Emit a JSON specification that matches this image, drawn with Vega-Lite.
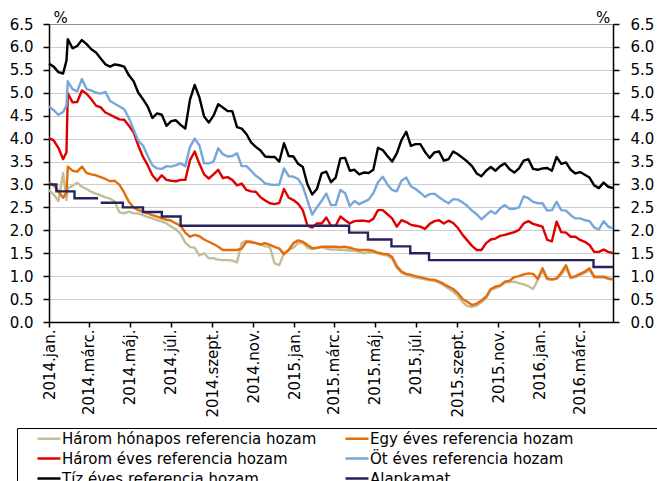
{
"$schema":"https://vega.github.io/schema/vega-lite/v6.json",
"width":564,"height":298,
"autosize":{"type":"none"},
"padding":{"left":49,"top":24,"right":44,"bottom":159},
"background":"#ffffff",
"datasets":{
"h3":[{"d":"2014-01-01","v":2.88},{"d":"2014-01-08","v":2.78},{"d":"2014-01-15","v":2.64},{"d":"2014-01-22","v":3.25},{"d":"2014-01-27","v":2.66},{"d":"2014-01-29","v":2.92},{"d":"2014-02-05","v":2.97},{"d":"2014-02-12","v":3.04},{"d":"2014-02-19","v":2.95},{"d":"2014-02-26","v":2.90},{"d":"2014-03-05","v":2.84},{"d":"2014-03-12","v":2.80},{"d":"2014-03-19","v":2.76},{"d":"2014-03-26","v":2.72},{"d":"2014-04-02","v":2.69},{"d":"2014-04-09","v":2.63},{"d":"2014-04-16","v":2.39},{"d":"2014-04-23","v":2.37},{"d":"2014-04-30","v":2.41},{"d":"2014-05-07","v":2.37},{"d":"2014-05-14","v":2.37},{"d":"2014-05-21","v":2.33},{"d":"2014-05-28","v":2.29},{"d":"2014-06-04","v":2.26},{"d":"2014-06-11","v":2.22},{"d":"2014-06-18","v":2.19},{"d":"2014-06-25","v":2.15},{"d":"2014-07-02","v":2.08},{"d":"2014-07-09","v":2.02},{"d":"2014-07-16","v":1.92},{"d":"2014-07-23","v":1.73},{"d":"2014-07-30","v":1.64},{"d":"2014-08-06","v":1.62},{"d":"2014-08-13","v":1.45},{"d":"2014-08-20","v":1.50},{"d":"2014-08-27","v":1.39},{"d":"2014-09-03","v":1.39},{"d":"2014-09-10","v":1.36},{"d":"2014-09-17","v":1.35},{"d":"2014-09-24","v":1.35},{"d":"2014-10-01","v":1.34},{"d":"2014-10-08","v":1.30},{"d":"2014-10-15","v":1.72},{"d":"2014-10-22","v":1.77},{"d":"2014-10-29","v":1.76},{"d":"2014-11-05","v":1.72},{"d":"2014-11-12","v":1.70},{"d":"2014-11-19","v":1.65},{"d":"2014-11-26","v":1.64},{"d":"2014-12-03","v":1.28},{"d":"2014-12-10","v":1.24},{"d":"2014-12-17","v":1.50},{"d":"2014-12-24","v":1.57},{"d":"2014-12-31","v":1.62},{"d":"2015-01-07","v":1.72},{"d":"2015-01-14","v":1.73},{"d":"2015-01-21","v":1.62},{"d":"2015-01-28","v":1.59},{"d":"2015-02-04","v":1.61},{"d":"2015-02-11","v":1.64},{"d":"2015-02-18","v":1.60},{"d":"2015-02-25","v":1.58},{"d":"2015-03-04","v":1.58},{"d":"2015-03-11","v":1.57},{"d":"2015-03-18","v":1.57},{"d":"2015-03-25","v":1.56},{"d":"2015-04-01","v":1.55},{"d":"2015-04-08","v":1.53},{"d":"2015-04-15","v":1.50},{"d":"2015-04-22","v":1.52},{"d":"2015-04-29","v":1.52},{"d":"2015-05-06","v":1.50},{"d":"2015-05-13","v":1.47},{"d":"2015-05-20","v":1.45},{"d":"2015-05-27","v":1.38},{"d":"2015-06-03","v":1.18},{"d":"2015-06-10","v":1.08},{"d":"2015-06-17","v":1.03},{"d":"2015-06-24","v":1.00},{"d":"2015-07-01","v":0.97},{"d":"2015-07-08","v":0.95},{"d":"2015-07-15","v":0.93},{"d":"2015-07-22","v":0.91},{"d":"2015-07-29","v":0.90},{"d":"2015-08-05","v":0.86},{"d":"2015-08-12","v":0.80},{"d":"2015-08-19","v":0.73},{"d":"2015-08-26","v":0.66},{"d":"2015-09-02","v":0.57},{"d":"2015-09-09","v":0.43},{"d":"2015-09-16","v":0.35},{"d":"2015-09-23","v":0.33},{"d":"2015-09-30","v":0.36},{"d":"2015-10-07","v":0.43},{"d":"2015-10-14","v":0.52},{"d":"2015-10-21","v":0.70},{"d":"2015-10-28","v":0.74},{"d":"2015-11-04","v":0.78},{"d":"2015-11-11","v":0.86},{"d":"2015-11-18","v":0.87},{"d":"2015-11-25","v":0.88},{"d":"2015-12-02","v":0.85},{"d":"2015-12-09","v":0.82},{"d":"2015-12-16","v":0.78},{"d":"2015-12-23","v":0.72},{"d":"2015-12-30","v":0.92},{"d":"2016-01-06","v":1.12},{"d":"2016-01-13","v":0.93},{"d":"2016-01-20","v":0.92},{"d":"2016-01-27","v":0.94},{"d":"2016-02-03","v":1.03},{"d":"2016-02-10","v":1.18},{"d":"2016-02-17","v":0.96},{"d":"2016-02-24","v":0.98},{"d":"2016-03-02","v":1.02},{"d":"2016-03-09","v":1.07},{"d":"2016-03-16","v":1.13},{"d":"2016-03-23","v":0.97},{"d":"2016-03-30","v":0.97},{"d":"2016-04-06","v":0.97},{"d":"2016-04-13","v":0.94},{"d":"2016-04-20","v":0.92}],
"e1":[{"d":"2014-01-01","v":3.05},{"d":"2014-01-08","v":2.98},{"d":"2014-01-15","v":2.85},{"d":"2014-01-22","v":2.71},{"d":"2014-01-27","v":2.82},{"d":"2014-01-29","v":3.39},{"d":"2014-02-05","v":3.30},{"d":"2014-02-12","v":3.28},{"d":"2014-02-19","v":3.39},{"d":"2014-02-26","v":3.25},{"d":"2014-03-05","v":3.22},{"d":"2014-03-12","v":3.20},{"d":"2014-03-19","v":3.16},{"d":"2014-03-26","v":3.12},{"d":"2014-04-02","v":3.07},{"d":"2014-04-09","v":3.08},{"d":"2014-04-16","v":2.99},{"d":"2014-04-23","v":2.82},{"d":"2014-04-30","v":2.62},{"d":"2014-05-07","v":2.50},{"d":"2014-05-14","v":2.44},{"d":"2014-05-21","v":2.41},{"d":"2014-05-28","v":2.37},{"d":"2014-06-04","v":2.33},{"d":"2014-06-11","v":2.30},{"d":"2014-06-18","v":2.26},{"d":"2014-06-25","v":2.23},{"d":"2014-07-02","v":2.21},{"d":"2014-07-09","v":2.15},{"d":"2014-07-16","v":2.10},{"d":"2014-07-23","v":1.95},{"d":"2014-07-30","v":1.86},{"d":"2014-08-06","v":1.90},{"d":"2014-08-13","v":1.87},{"d":"2014-08-20","v":1.80},{"d":"2014-08-27","v":1.75},{"d":"2014-09-03","v":1.70},{"d":"2014-09-10","v":1.64},{"d":"2014-09-17","v":1.57},{"d":"2014-09-24","v":1.57},{"d":"2014-10-01","v":1.57},{"d":"2014-10-08","v":1.57},{"d":"2014-10-15","v":1.60},{"d":"2014-10-22","v":1.75},{"d":"2014-10-29","v":1.74},{"d":"2014-11-05","v":1.72},{"d":"2014-11-12","v":1.69},{"d":"2014-11-19","v":1.72},{"d":"2014-11-26","v":1.68},{"d":"2014-12-03","v":1.64},{"d":"2014-12-10","v":1.60},{"d":"2014-12-17","v":1.48},{"d":"2014-12-24","v":1.57},{"d":"2014-12-31","v":1.72},{"d":"2015-01-07","v":1.78},{"d":"2015-01-14","v":1.75},{"d":"2015-01-21","v":1.68},{"d":"2015-01-28","v":1.61},{"d":"2015-02-04","v":1.62},{"d":"2015-02-11","v":1.64},{"d":"2015-02-18","v":1.64},{"d":"2015-02-25","v":1.64},{"d":"2015-03-04","v":1.64},{"d":"2015-03-11","v":1.63},{"d":"2015-03-18","v":1.64},{"d":"2015-03-25","v":1.62},{"d":"2015-04-01","v":1.59},{"d":"2015-04-08","v":1.57},{"d":"2015-04-15","v":1.57},{"d":"2015-04-22","v":1.57},{"d":"2015-04-29","v":1.55},{"d":"2015-05-06","v":1.51},{"d":"2015-05-13","v":1.49},{"d":"2015-05-20","v":1.48},{"d":"2015-05-27","v":1.42},{"d":"2015-06-03","v":1.22},{"d":"2015-06-10","v":1.10},{"d":"2015-06-17","v":1.05},{"d":"2015-06-24","v":1.03},{"d":"2015-07-01","v":1.00},{"d":"2015-07-08","v":0.98},{"d":"2015-07-15","v":0.95},{"d":"2015-07-22","v":0.93},{"d":"2015-07-29","v":0.92},{"d":"2015-08-05","v":0.88},{"d":"2015-08-12","v":0.83},{"d":"2015-08-19","v":0.77},{"d":"2015-08-26","v":0.72},{"d":"2015-09-02","v":0.63},{"d":"2015-09-09","v":0.50},{"d":"2015-09-16","v":0.44},{"d":"2015-09-23","v":0.37},{"d":"2015-09-30","v":0.40},{"d":"2015-10-07","v":0.47},{"d":"2015-10-14","v":0.55},{"d":"2015-10-21","v":0.72},{"d":"2015-10-28","v":0.77},{"d":"2015-11-04","v":0.80},{"d":"2015-11-11","v":0.88},{"d":"2015-11-18","v":0.90},{"d":"2015-11-25","v":0.98},{"d":"2015-12-02","v":1.00},{"d":"2015-12-09","v":1.04},{"d":"2015-12-16","v":1.06},{"d":"2015-12-23","v":1.05},{"d":"2015-12-30","v":0.94},{"d":"2016-01-06","v":1.17},{"d":"2016-01-13","v":0.95},{"d":"2016-01-20","v":0.93},{"d":"2016-01-27","v":0.95},{"d":"2016-02-03","v":1.08},{"d":"2016-02-10","v":1.24},{"d":"2016-02-17","v":0.97},{"d":"2016-02-24","v":1.00},{"d":"2016-03-02","v":1.05},{"d":"2016-03-09","v":1.10},{"d":"2016-03-16","v":1.17},{"d":"2016-03-23","v":0.99},{"d":"2016-03-30","v":0.99},{"d":"2016-04-06","v":0.99},{"d":"2016-04-13","v":0.95},{"d":"2016-04-20","v":0.93}],
"r3":[{"d":"2014-01-01","v":4.01},{"d":"2014-01-08","v":3.96},{"d":"2014-01-15","v":3.80},{"d":"2014-01-22","v":3.55},{"d":"2014-01-27","v":3.70},{"d":"2014-01-29","v":4.99},{"d":"2014-02-05","v":4.79},{"d":"2014-02-12","v":4.80},{"d":"2014-02-19","v":5.05},{"d":"2014-02-26","v":4.98},{"d":"2014-03-05","v":4.86},{"d":"2014-03-12","v":4.72},{"d":"2014-03-19","v":4.68},{"d":"2014-03-26","v":4.57},{"d":"2014-04-02","v":4.52},{"d":"2014-04-09","v":4.47},{"d":"2014-04-16","v":4.42},{"d":"2014-04-23","v":4.41},{"d":"2014-04-30","v":4.28},{"d":"2014-05-07","v":4.14},{"d":"2014-05-14","v":3.85},{"d":"2014-05-21","v":3.60},{"d":"2014-05-28","v":3.42},{"d":"2014-06-04","v":3.20},{"d":"2014-06-11","v":3.08},{"d":"2014-06-18","v":3.20},{"d":"2014-06-25","v":3.10},{"d":"2014-07-02","v":3.08},{"d":"2014-07-09","v":3.07},{"d":"2014-07-16","v":3.10},{"d":"2014-07-23","v":3.10},{"d":"2014-07-30","v":3.53},{"d":"2014-08-06","v":3.72},{"d":"2014-08-13","v":3.45},{"d":"2014-08-20","v":3.22},{"d":"2014-08-27","v":3.13},{"d":"2014-09-03","v":3.22},{"d":"2014-09-10","v":3.32},{"d":"2014-09-17","v":3.14},{"d":"2014-09-24","v":3.16},{"d":"2014-10-01","v":3.10},{"d":"2014-10-08","v":2.98},{"d":"2014-10-15","v":3.02},{"d":"2014-10-22","v":2.88},{"d":"2014-10-29","v":2.85},{"d":"2014-11-05","v":2.84},{"d":"2014-11-12","v":2.72},{"d":"2014-11-19","v":2.65},{"d":"2014-11-26","v":2.59},{"d":"2014-12-03","v":2.57},{"d":"2014-12-10","v":2.60},{"d":"2014-12-17","v":2.90},{"d":"2014-12-24","v":2.71},{"d":"2014-12-31","v":2.66},{"d":"2015-01-07","v":2.58},{"d":"2015-01-14","v":2.44},{"d":"2015-01-21","v":2.10},{"d":"2015-01-28","v":2.06},{"d":"2015-02-04","v":2.15},{"d":"2015-02-11","v":2.15},{"d":"2015-02-18","v":2.28},{"d":"2015-02-25","v":2.10},{"d":"2015-03-04","v":2.10},{"d":"2015-03-11","v":2.30},{"d":"2015-03-18","v":2.22},{"d":"2015-03-25","v":2.15},{"d":"2015-04-01","v":2.20},{"d":"2015-04-08","v":2.21},{"d":"2015-04-15","v":2.21},{"d":"2015-04-22","v":2.19},{"d":"2015-04-29","v":2.25},{"d":"2015-05-06","v":2.44},{"d":"2015-05-13","v":2.44},{"d":"2015-05-20","v":2.35},{"d":"2015-05-27","v":2.26},{"d":"2015-06-03","v":2.08},{"d":"2015-06-10","v":2.22},{"d":"2015-06-17","v":2.18},{"d":"2015-06-24","v":2.12},{"d":"2015-07-01","v":2.10},{"d":"2015-07-08","v":2.08},{"d":"2015-07-15","v":2.03},{"d":"2015-07-22","v":2.14},{"d":"2015-07-29","v":2.20},{"d":"2015-08-05","v":2.22},{"d":"2015-08-12","v":2.15},{"d":"2015-08-19","v":2.21},{"d":"2015-08-26","v":2.16},{"d":"2015-09-02","v":2.05},{"d":"2015-09-09","v":1.90},{"d":"2015-09-16","v":1.78},{"d":"2015-09-23","v":1.66},{"d":"2015-09-30","v":1.57},{"d":"2015-10-07","v":1.57},{"d":"2015-10-14","v":1.72},{"d":"2015-10-21","v":1.80},{"d":"2015-10-28","v":1.82},{"d":"2015-11-04","v":1.88},{"d":"2015-11-11","v":1.90},{"d":"2015-11-18","v":1.93},{"d":"2015-11-25","v":1.96},{"d":"2015-12-02","v":2.01},{"d":"2015-12-09","v":2.15},{"d":"2015-12-16","v":2.20},{"d":"2015-12-23","v":2.14},{"d":"2015-12-30","v":2.11},{"d":"2016-01-06","v":2.08},{"d":"2016-01-13","v":1.79},{"d":"2016-01-20","v":1.76},{"d":"2016-01-27","v":2.19},{"d":"2016-02-03","v":1.96},{"d":"2016-02-10","v":1.95},{"d":"2016-02-17","v":1.86},{"d":"2016-02-24","v":1.86},{"d":"2016-03-02","v":1.79},{"d":"2016-03-09","v":1.75},{"d":"2016-03-16","v":1.68},{"d":"2016-03-23","v":1.53},{"d":"2016-03-30","v":1.53},{"d":"2016-04-06","v":1.58},{"d":"2016-04-13","v":1.53},{"d":"2016-04-20","v":1.50}],
"o5":[{"d":"2014-01-01","v":4.70},{"d":"2014-01-08","v":4.62},{"d":"2014-01-15","v":4.52},{"d":"2014-01-22","v":4.58},{"d":"2014-01-27","v":4.72},{"d":"2014-01-29","v":5.25},{"d":"2014-02-05","v":5.08},{"d":"2014-02-12","v":5.03},{"d":"2014-02-19","v":5.30},{"d":"2014-02-26","v":5.08},{"d":"2014-03-05","v":5.05},{"d":"2014-03-12","v":5.00},{"d":"2014-03-19","v":4.98},{"d":"2014-03-26","v":5.02},{"d":"2014-04-02","v":4.82},{"d":"2014-04-09","v":4.76},{"d":"2014-04-16","v":4.70},{"d":"2014-04-23","v":4.64},{"d":"2014-04-30","v":4.45},{"d":"2014-05-07","v":4.20},{"d":"2014-05-14","v":3.95},{"d":"2014-05-21","v":3.85},{"d":"2014-05-28","v":3.62},{"d":"2014-06-04","v":3.42},{"d":"2014-06-11","v":3.35},{"d":"2014-06-18","v":3.34},{"d":"2014-06-25","v":3.40},{"d":"2014-07-02","v":3.39},{"d":"2014-07-09","v":3.42},{"d":"2014-07-16","v":3.46},{"d":"2014-07-23","v":3.40},{"d":"2014-07-30","v":3.82},{"d":"2014-08-06","v":4.00},{"d":"2014-08-13","v":3.85},{"d":"2014-08-20","v":3.46},{"d":"2014-08-27","v":3.46},{"d":"2014-09-03","v":3.50},{"d":"2014-09-10","v":3.79},{"d":"2014-09-17","v":3.66},{"d":"2014-09-24","v":3.61},{"d":"2014-10-01","v":3.62},{"d":"2014-10-08","v":3.68},{"d":"2014-10-15","v":3.40},{"d":"2014-10-22","v":3.40},{"d":"2014-10-29","v":3.30},{"d":"2014-11-05","v":3.19},{"d":"2014-11-12","v":3.12},{"d":"2014-11-19","v":3.02},{"d":"2014-11-26","v":3.00},{"d":"2014-12-03","v":2.99},{"d":"2014-12-10","v":3.00},{"d":"2014-12-17","v":3.35},{"d":"2014-12-24","v":3.18},{"d":"2014-12-31","v":3.17},{"d":"2015-01-07","v":3.12},{"d":"2015-01-14","v":2.96},{"d":"2015-01-21","v":2.65},{"d":"2015-01-28","v":2.34},{"d":"2015-02-04","v":2.50},{"d":"2015-02-11","v":2.64},{"d":"2015-02-18","v":2.80},{"d":"2015-02-25","v":2.55},{"d":"2015-03-04","v":2.55},{"d":"2015-03-11","v":2.88},{"d":"2015-03-18","v":2.81},{"d":"2015-03-25","v":2.53},{"d":"2015-04-01","v":2.64},{"d":"2015-04-08","v":2.57},{"d":"2015-04-15","v":2.62},{"d":"2015-04-22","v":2.67},{"d":"2015-04-29","v":2.81},{"d":"2015-05-06","v":3.05},{"d":"2015-05-13","v":3.17},{"d":"2015-05-20","v":3.00},{"d":"2015-05-27","v":2.88},{"d":"2015-06-03","v":2.85},{"d":"2015-06-10","v":3.08},{"d":"2015-06-17","v":3.15},{"d":"2015-06-24","v":2.96},{"d":"2015-07-01","v":2.90},{"d":"2015-07-08","v":2.82},{"d":"2015-07-15","v":2.73},{"d":"2015-07-22","v":2.79},{"d":"2015-07-29","v":2.80},{"d":"2015-08-05","v":2.72},{"d":"2015-08-12","v":2.65},{"d":"2015-08-19","v":2.59},{"d":"2015-08-26","v":2.68},{"d":"2015-09-02","v":2.67},{"d":"2015-09-09","v":2.61},{"d":"2015-09-16","v":2.53},{"d":"2015-09-23","v":2.43},{"d":"2015-09-30","v":2.35},{"d":"2015-10-07","v":2.24},{"d":"2015-10-14","v":2.33},{"d":"2015-10-21","v":2.42},{"d":"2015-10-28","v":2.36},{"d":"2015-11-04","v":2.48},{"d":"2015-11-11","v":2.55},{"d":"2015-11-18","v":2.47},{"d":"2015-11-25","v":2.47},{"d":"2015-12-02","v":2.50},{"d":"2015-12-09","v":2.74},{"d":"2015-12-16","v":2.70},{"d":"2015-12-23","v":2.62},{"d":"2015-12-30","v":2.59},{"d":"2016-01-06","v":2.59},{"d":"2016-01-13","v":2.43},{"d":"2016-01-20","v":2.44},{"d":"2016-01-27","v":2.62},{"d":"2016-02-03","v":2.44},{"d":"2016-02-10","v":2.43},{"d":"2016-02-17","v":2.33},{"d":"2016-02-24","v":2.26},{"d":"2016-03-02","v":2.26},{"d":"2016-03-09","v":2.22},{"d":"2016-03-16","v":2.20},{"d":"2016-03-23","v":2.06},{"d":"2016-03-30","v":2.02},{"d":"2016-04-06","v":2.20},{"d":"2016-04-13","v":2.08},{"d":"2016-04-20","v":2.04}],
"t10":[{"d":"2014-01-01","v":5.64},{"d":"2014-01-08","v":5.57},{"d":"2014-01-15","v":5.45},{"d":"2014-01-22","v":5.42},{"d":"2014-01-27","v":5.70},{"d":"2014-01-29","v":6.17},{"d":"2014-02-05","v":5.97},{"d":"2014-02-12","v":6.02},{"d":"2014-02-19","v":6.15},{"d":"2014-02-26","v":6.06},{"d":"2014-03-05","v":5.95},{"d":"2014-03-12","v":5.88},{"d":"2014-03-19","v":5.75},{"d":"2014-03-26","v":5.62},{"d":"2014-04-02","v":5.57},{"d":"2014-04-09","v":5.62},{"d":"2014-04-16","v":5.60},{"d":"2014-04-23","v":5.57},{"d":"2014-04-30","v":5.38},{"d":"2014-05-07","v":5.25},{"d":"2014-05-14","v":5.00},{"d":"2014-05-21","v":4.86},{"d":"2014-05-28","v":4.70},{"d":"2014-06-04","v":4.45},{"d":"2014-06-11","v":4.55},{"d":"2014-06-18","v":4.52},{"d":"2014-06-25","v":4.28},{"d":"2014-07-02","v":4.38},{"d":"2014-07-09","v":4.40},{"d":"2014-07-16","v":4.30},{"d":"2014-07-23","v":4.22},{"d":"2014-07-30","v":4.85},{"d":"2014-08-06","v":5.17},{"d":"2014-08-13","v":4.90},{"d":"2014-08-20","v":4.48},{"d":"2014-08-27","v":4.35},{"d":"2014-09-03","v":4.50},{"d":"2014-09-10","v":4.75},{"d":"2014-09-17","v":4.68},{"d":"2014-09-24","v":4.60},{"d":"2014-10-01","v":4.60},{"d":"2014-10-08","v":4.25},{"d":"2014-10-15","v":4.22},{"d":"2014-10-22","v":4.10},{"d":"2014-10-29","v":3.92},{"d":"2014-11-05","v":3.82},{"d":"2014-11-12","v":3.74},{"d":"2014-11-19","v":3.61},{"d":"2014-11-26","v":3.60},{"d":"2014-12-03","v":3.60},{"d":"2014-12-10","v":3.50},{"d":"2014-12-17","v":3.90},{"d":"2014-12-24","v":3.62},{"d":"2014-12-31","v":3.61},{"d":"2015-01-07","v":3.45},{"d":"2015-01-14","v":3.38},{"d":"2015-01-21","v":3.00},{"d":"2015-01-28","v":2.78},{"d":"2015-02-04","v":2.90},{"d":"2015-02-11","v":3.24},{"d":"2015-02-18","v":3.28},{"d":"2015-02-25","v":3.05},{"d":"2015-03-04","v":3.15},{"d":"2015-03-11","v":3.57},{"d":"2015-03-18","v":3.58},{"d":"2015-03-25","v":3.30},{"d":"2015-04-01","v":3.32},{"d":"2015-04-08","v":3.22},{"d":"2015-04-15","v":3.26},{"d":"2015-04-22","v":3.25},{"d":"2015-04-29","v":3.32},{"d":"2015-05-06","v":3.80},{"d":"2015-05-13","v":3.75},{"d":"2015-05-20","v":3.62},{"d":"2015-05-27","v":3.50},{"d":"2015-06-03","v":3.68},{"d":"2015-06-10","v":3.97},{"d":"2015-06-17","v":4.15},{"d":"2015-06-24","v":3.84},{"d":"2015-07-01","v":3.88},{"d":"2015-07-08","v":3.88},{"d":"2015-07-15","v":3.71},{"d":"2015-07-22","v":3.58},{"d":"2015-07-29","v":3.70},{"d":"2015-08-05","v":3.72},{"d":"2015-08-12","v":3.52},{"d":"2015-08-19","v":3.55},{"d":"2015-08-26","v":3.72},{"d":"2015-09-02","v":3.66},{"d":"2015-09-09","v":3.58},{"d":"2015-09-16","v":3.50},{"d":"2015-09-23","v":3.40},{"d":"2015-09-30","v":3.24},{"d":"2015-10-07","v":3.18},{"d":"2015-10-14","v":3.30},{"d":"2015-10-21","v":3.38},{"d":"2015-10-28","v":3.30},{"d":"2015-11-04","v":3.40},{"d":"2015-11-11","v":3.46},{"d":"2015-11-18","v":3.33},{"d":"2015-11-25","v":3.26},{"d":"2015-12-02","v":3.35},{"d":"2015-12-09","v":3.52},{"d":"2015-12-16","v":3.55},{"d":"2015-12-23","v":3.34},{"d":"2015-12-30","v":3.32},{"d":"2016-01-06","v":3.35},{"d":"2016-01-13","v":3.36},{"d":"2016-01-20","v":3.30},{"d":"2016-01-27","v":3.60},{"d":"2016-02-03","v":3.45},{"d":"2016-02-10","v":3.48},{"d":"2016-02-17","v":3.32},{"d":"2016-02-24","v":3.24},{"d":"2016-03-02","v":3.27},{"d":"2016-03-09","v":3.21},{"d":"2016-03-16","v":3.15},{"d":"2016-03-23","v":2.98},{"d":"2016-03-30","v":2.92},{"d":"2016-04-06","v":3.04},{"d":"2016-04-13","v":2.95},{"d":"2016-04-20","v":2.92}],
"alap":[{"d":"2014-01-01","v":3.00},{"d":"2014-01-12","v":2.85},{"d":"2014-02-08","v":2.70},{"d":"2014-03-15","v":2.70},{"d":"2014-03-16","v":null},{"d":"2014-03-19","v":2.60},{"d":"2014-04-21","v":2.50},{"d":"2014-05-21","v":2.40},{"d":"2014-06-18","v":2.30},{"d":"2014-07-16","v":2.10},{"d":"2015-03-24","v":1.95},{"d":"2015-04-21","v":1.80},{"d":"2015-05-26","v":1.65},{"d":"2015-06-23","v":1.50},{"d":"2015-07-21","v":1.35},{"d":"2016-03-22","v":1.20},{"d":"2016-04-20","v":1.20}]
},
"encoding":{
"x":{"field":"d","type":"temporal",
 "scale":{"type":"utc","domain":[{"year":2014,"month":1,"date":1,"utc":true},{"year":2016,"month":4,"date":20,"utc":true}]},
 "axis":{"title":null,"grid":false,"labelAngle":-90,"labelPadding":2,"tickSize":5,
  "values":[{"year":2014,"month":1,"date":1,"utc":true},{"year":2014,"month":3,"date":1,"utc":true},{"year":2014,"month":5,"date":1,"utc":true},{"year":2014,"month":7,"date":1,"utc":true},{"year":2014,"month":9,"date":1,"utc":true},{"year":2014,"month":11,"date":1,"utc":true},{"year":2015,"month":1,"date":1,"utc":true},{"year":2015,"month":3,"date":1,"utc":true},{"year":2015,"month":5,"date":1,"utc":true},{"year":2015,"month":7,"date":1,"utc":true},{"year":2015,"month":9,"date":1,"utc":true},{"year":2015,"month":11,"date":1,"utc":true},{"year":2016,"month":1,"date":1,"utc":true},{"year":2016,"month":3,"date":1,"utc":true}],
  "labelExpr":"utcyear(datum.value) + '.' + ['jan.','febr.','márc.','ápr.','máj.','jún.','júl.','aug.','szept.','okt.','nov.','dec.'][utcmonth(datum.value)]"}}
},
"layer":[
{"data":{"name":"h3"},"mark":{"type":"line","strokeWidth":2.4,"strokeJoin":"round"},
 "encoding":{
  "y":{"field":"v","type":"quantitative","scale":{"domain":[0,6.5],"nice":false},
   "axis":{"orient":"left","values":[0,0.5,1,1.5,2,2.5,3,3.5,4,4.5,5,5.5,6,6.5],"format":".1f","grid":true,"tickSize":6,"labelPadding":10,"title":"%","titleAngle":0,"titleX":11,"titleY":-7,"titleAlign":"center","titleBaseline":"middle"}},
  "color":{"datum":"Három hónapos referencia hozam","type":"nominal","scale":{"domain":["Három hónapos referencia hozam","Egy éves referencia hozam","Három éves referencia hozam","Öt éves referencia hozam","Tíz éves referencia hozam","Alapkamat"],"range":["#C4BD97","#E46C0A","#E00000","#77A6DA","#000000","#25235E"]},"legend":{"title":" "}}}},
{"data":{"name":"e1"},"mark":{"type":"line","strokeWidth":2.4,"strokeJoin":"round"},
 "encoding":{
  "y":{"field":"v","type":"quantitative","scale":{"domain":[0,6.5],"nice":false},"axis":null},
  "color":{"datum":"Egy éves referencia hozam","type":"nominal","scale":{"domain":["Három hónapos referencia hozam","Egy éves referencia hozam","Három éves referencia hozam","Öt éves referencia hozam","Tíz éves referencia hozam","Alapkamat"],"range":["#C4BD97","#E46C0A","#E00000","#77A6DA","#000000","#25235E"]},"legend":{"title":" "}}}},
{"data":{"name":"r3"},"mark":{"type":"line","strokeWidth":2.4,"strokeJoin":"round"},
 "encoding":{
  "y":{"field":"v","type":"quantitative","scale":{"domain":[0,6.5],"nice":false},"axis":null},
  "color":{"datum":"Három éves referencia hozam","type":"nominal","scale":{"domain":["Három hónapos referencia hozam","Egy éves referencia hozam","Három éves referencia hozam","Öt éves referencia hozam","Tíz éves referencia hozam","Alapkamat"],"range":["#C4BD97","#E46C0A","#E00000","#77A6DA","#000000","#25235E"]},"legend":{"title":" "}}}},
{"data":{"name":"o5"},"mark":{"type":"line","strokeWidth":2.4,"strokeJoin":"round"},
 "encoding":{
  "y":{"field":"v","type":"quantitative","scale":{"domain":[0,6.5],"nice":false},"axis":null},
  "color":{"datum":"Öt éves referencia hozam","type":"nominal","scale":{"domain":["Három hónapos referencia hozam","Egy éves referencia hozam","Három éves referencia hozam","Öt éves referencia hozam","Tíz éves referencia hozam","Alapkamat"],"range":["#C4BD97","#E46C0A","#E00000","#77A6DA","#000000","#25235E"]},"legend":{"title":" "}}}},
{"data":{"name":"t10"},"mark":{"type":"line","strokeWidth":2.4,"strokeJoin":"round"},
 "encoding":{
  "y":{"field":"v","type":"quantitative","scale":{"domain":[0,6.5],"nice":false},"axis":null},
  "color":{"datum":"Tíz éves referencia hozam","type":"nominal","scale":{"domain":["Három hónapos referencia hozam","Egy éves referencia hozam","Három éves referencia hozam","Öt éves referencia hozam","Tíz éves referencia hozam","Alapkamat"],"range":["#C4BD97","#E46C0A","#E00000","#77A6DA","#000000","#25235E"]},"legend":{"title":" "}}}},
{"data":{"name":"alap"},"mark":{"type":"line","strokeWidth":2.4,"interpolate":"step-after"},
 "encoding":{
  "y":{"field":"v","type":"quantitative","scale":{"domain":[0,6.5],"nice":false},
   "axis":{"orient":"right","values":[0,0.5,1,1.5,2,2.5,3,3.5,4,4.5,5,5.5,6,6.5],"format":".1f","grid":false,"tickSize":6,"labelPadding":11,"title":"%","titleAngle":0,"titleX":-10.5,"titleY":-7,"titleAlign":"center","titleBaseline":"middle"}},
  "color":{"datum":"Alapkamat","type":"nominal","scale":{"domain":["Három hónapos referencia hozam","Egy éves referencia hozam","Három éves referencia hozam","Öt éves referencia hozam","Tíz éves referencia hozam","Alapkamat"],"range":["#C4BD97","#E46C0A","#E00000","#77A6DA","#000000","#25235E"]},"legend":{"title":" "}}}}
],
"resolve":{"axis":{"y":"independent"}},
"config":{
 "font":"DejaVu Sans",
 "view":{"stroke":"#808080","strokeWidth":1},
 "axis":{"labelFont":"DejaVu Sans","labelFontSize":15,"labelColor":"#000000","domainColor":"#000000","domainWidth":1.5,"tickColor":"#000000","tickWidth":1.5,"titleFont":"DejaVu Sans","titleFontSize":15,"titleFontWeight":"normal","titleColor":"#000000","gridColor":"#9a9a9a","gridDash":[1,1],"gridWidth":1},
 "legend":{"orient":"none","legendX":-32,"legendY":404,"direction":"horizontal","columns":2,"symbolType":"stroke","symbolSize":529,"symbolStrokeWidth":2.5,"symbolOffset":16,"labelOffset":0,"clipHeight":15,"labelFont":"DejaVu Sans","labelFontSize":15,"labelColor":"#000000","labelLimit":400,"rowPadding":4,"columnPadding":11,"padding":3,"strokeColor":"#000000","fillColor":"#ffffff","titleOrient":"right","titlePadding":96,"titleFontSize":15}
}
}
